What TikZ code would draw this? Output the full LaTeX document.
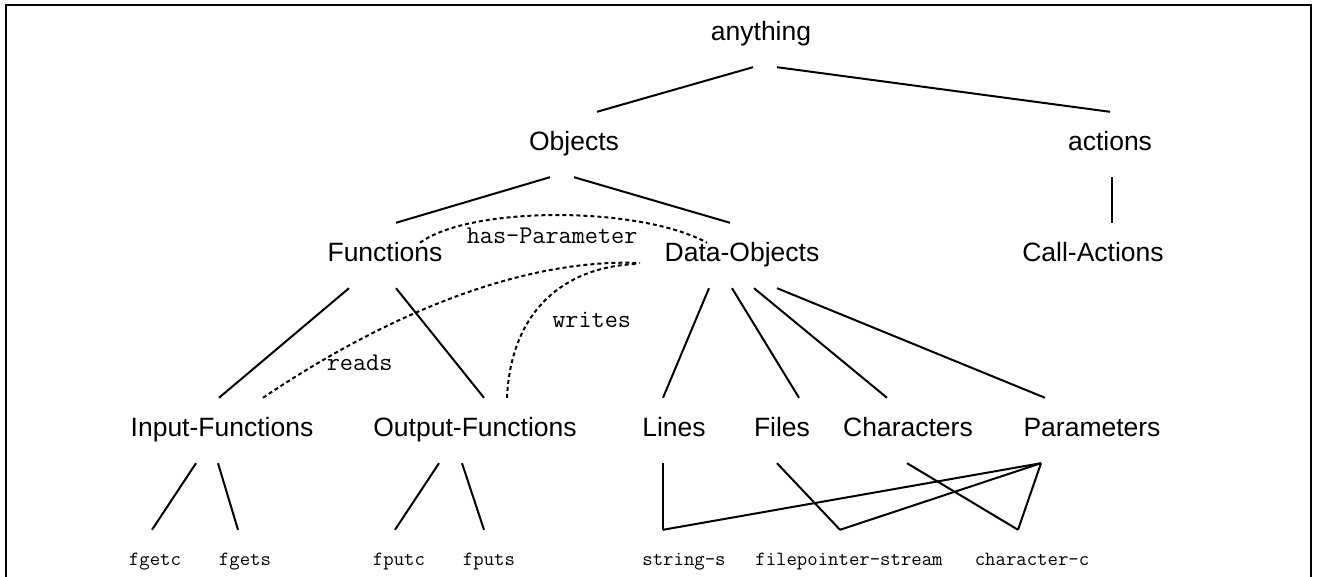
\documentclass[tikz,border=0pt]{standalone}
\usepackage{fontspec}
\setmainfont{Liberation Sans}

\begin{document}
\begin{tikzpicture}[
  x=1pt, y=1pt,
  cls/.style={font=\fontsize{26.5}{30}\selectfont, anchor=base, text height=19pt, text depth=6pt, inner xsep=0pt, inner ysep=20pt},
  leaf/.style={font=\ttfamily\fontsize{20.2}{23}\selectfont, anchor=base, text height=10pt, text depth=3pt, inner xsep=0pt, inner ysep=26pt},
  rel/.style={font=\ttfamily\fontsize{25.5}{28}\selectfont, anchor=base, inner sep=0pt},
  treeline/.style={line width=2pt},
  relline/.style={line width=2pt, dash pattern=on 4pt off 3pt}
]
\useasboundingbox (0,0) rectangle (1319,577);
\draw[line width=2pt] (6,0) -- (6,572) -- (1311,572) -- (1311,0);

% concepts
\node[cls] (anything) at (761,536) {anything};
\node[cls] (objects) at (574,426) {Objects};
\node[cls] (actions) at (1110,426) {actions};
\node[cls] (functions) at (385,315) {Functions};
\node[cls] (dataobj) at (742,315) {Data-Objects};
\node[cls] (callact) at (1093,315) {Call-Actions};
\node[cls] (inputfn) at (222,140) {Input-Functions};
\node[cls] (outputfn) at (475,140) {Output-Functions};
\node[cls] (lines) at (674,140) {Lines};
\node[cls] (files) at (782,140) {Files};
\node[cls] (chars) at (908,140) {Characters};
\node[cls] (params) at (1092,140) {Parameters};

% instances
\node[leaf] (fgetc) at (155,11) {fgetc};
\node[leaf] (fgets) at (245,11) {fgets};
\node[leaf] (fputc) at (399,11) {fputc};
\node[leaf] (fputs) at (489,11) {fputs};
\node[leaf] (strings) at (684,11) {string-s};
\node[leaf] (fpstream) at (849,11) {filepointer-stream};
\node[leaf] (charc) at (1032,11) {character-c};

% subclass links
\draw[treeline] ([xshift=-8pt]anything.south) -- ([xshift=23pt]objects.north);
\draw[treeline] ([xshift=16pt]anything.south) -- (actions.north);
\draw[treeline] ([xshift=-24pt]objects.south) -- ([xshift=11pt]functions.north);
\draw[treeline] (objects.south) -- ([xshift=-12pt]dataobj.north);
\draw[treeline] ([xshift=2pt]actions.south) -- ([xshift=19pt]callact.north);
\draw[treeline] ([xshift=-36pt]functions.south) -- ([xshift=-3pt]inputfn.north);
\draw[treeline] ([xshift=11pt]functions.south) -- ([xshift=9pt]outputfn.north);
\draw[treeline] ([xshift=-33pt]dataobj.south) -- ([xshift=-11pt]lines.north);
\draw[treeline] ([xshift=-10pt]dataobj.south) -- ([xshift=17pt]files.north);
\draw[treeline] ([xshift=12pt]dataobj.south) -- ([xshift=-21pt]chars.north);
\draw[treeline] ([xshift=35pt]dataobj.south) -- ([xshift=-47pt]params.north);

% instance links
\draw[treeline] ([xshift=-26pt]inputfn.south) -- ([xshift=-3pt]fgetc.north);
\draw[treeline] ([xshift=-4pt]inputfn.south) -- ([xshift=-7pt]fgets.north);
\draw[treeline] ([xshift=-36pt]outputfn.south) -- ([xshift=-4pt]fputc.north);
\draw[treeline] ([xshift=-13pt]outputfn.south) -- ([xshift=-5pt]fputs.north);
\draw[treeline] ([xshift=-11pt]lines.south) -- ([xshift=-21pt]strings.north);
\draw[treeline] ([xshift=-5pt]files.south) -- ([xshift=-9pt]fpstream.north);
\draw[treeline] ([xshift=-1pt]chars.south) -- ([xshift=-14pt]charc.north);
\draw[treeline] ([xshift=-51pt]params.south) -- ([xshift=-21pt]strings.north);
\draw[treeline] ([xshift=-51pt]params.south) -- ([xshift=-9pt]fpstream.north);
\draw[treeline] ([xshift=-51pt]params.south) -- ([xshift=-14pt]charc.north);

% relations
\draw[relline] ([shift={(35pt,-20pt)}]functions.north) .. controls +(50,37) and +(-67,37) .. ([shift={(-35pt,-20pt)}]dataobj.north)
  node[rel, midway, xshift=-5pt, yshift=-28pt] {has-Parameter};
\draw[relline] ([xshift=41pt]inputfn.north) .. controls +(120,81) and +(-120,5) .. ([shift={(-102pt,-1pt)}]dataobj.base)
  node[rel, pos=0.25, xshift=4pt, yshift=-29pt] {reads};
\draw[relline] ([xshift=32pt]outputfn.north) .. controls +(4,88) and +(-71,-3) .. ([shift={(-106pt,-2pt)}]dataobj.base)
  node[rel, pos=0.4, xshift=58pt, yshift=-14pt] {writes};
\end{tikzpicture}
\end{document}
